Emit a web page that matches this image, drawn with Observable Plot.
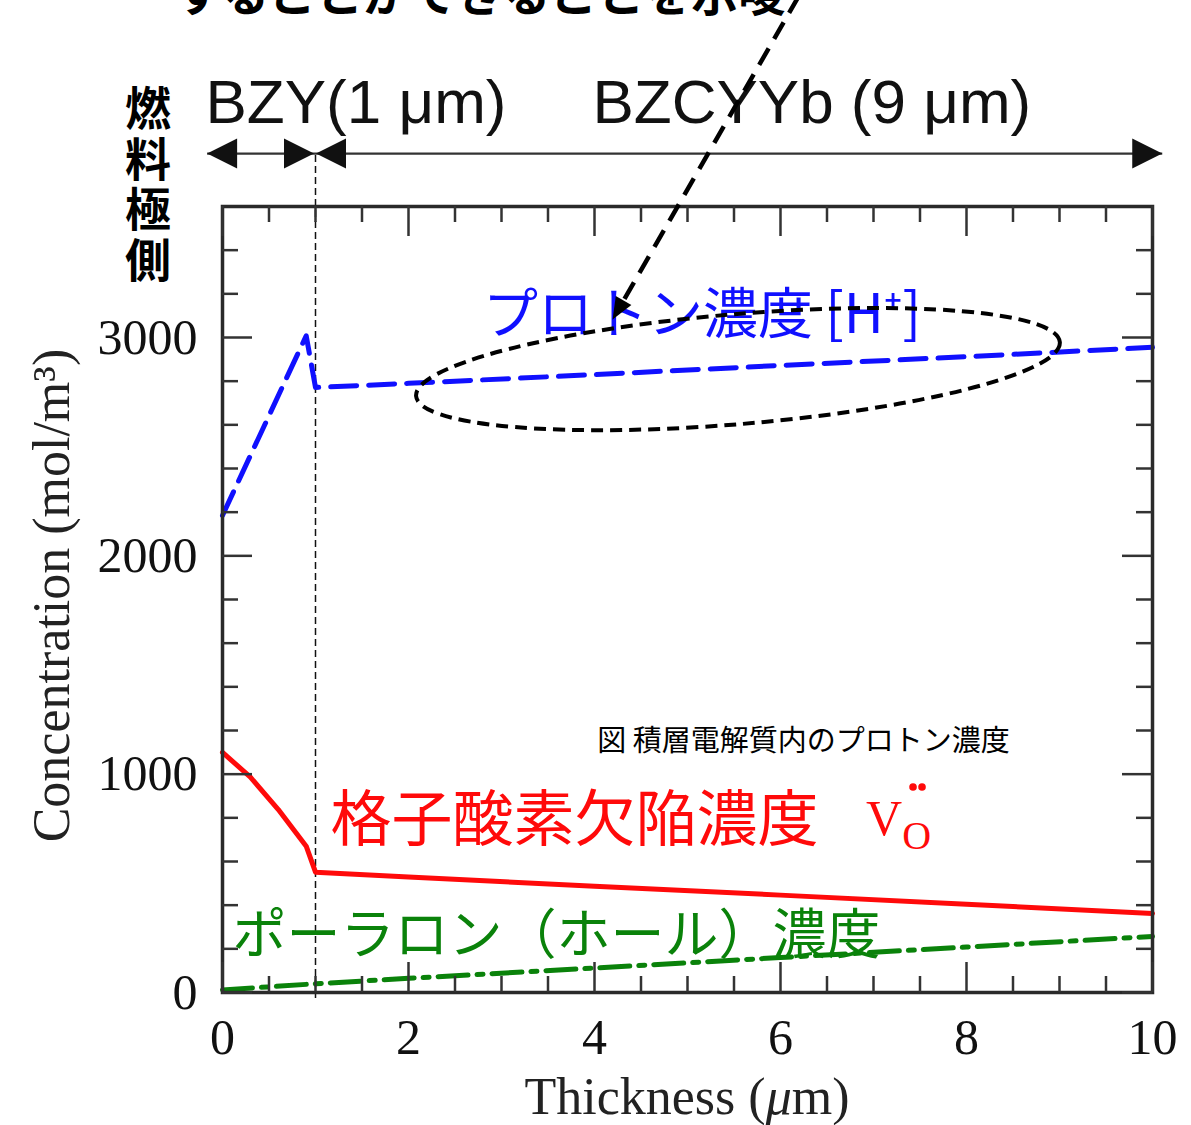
<!DOCTYPE html>
<html lang="ja">
<head>
<meta charset="utf-8">
<script src="https://cdn.jsdelivr.net/npm/d3@7"></script>
<script src="https://cdn.jsdelivr.net/npm/@observablehq/plot@0.6"></script>
<style>
  html, body { margin: 0; padding: 0; background: #fff; }
  #chart svg { display: block; }
</style>
</head>
<body>
<div id="chart"></div>
<script>
// Concentration profiles (mol/m³) through the stacked electrolyte, thickness in μm
const protonX  = [0, 0.9, 1, 2, 4, 6, 8, 10];
const protonC  = [2185, 3008, 2771, 2790, 2830, 2872, 2912, 2955];
const vacancyX = [0, 0.3, 0.6, 0.9, 1, 2, 4, 6, 8, 10];
const vacancyC = [1100, 986, 838, 670, 551, 529, 487, 446, 404, 362];
const polaronX = [0, 1, 2, 4, 6, 8, 10];
const polaronC = [12, 40, 65, 112, 160, 208, 257];

// Axis ticks
const xTickLabels = [0, 2, 4, 6, 8, 10];
const xMinorTicks = [0.5, 1, 1.5, 2.5, 3, 3.5, 4.5, 5, 5.5, 6.5, 7, 7.5, 8.5, 9, 9.5];
const yTickLabels = [0, 1000, 2000, 3000];
const yMinorTicks = [200, 400, 600, 800, 1200, 1400, 1600, 1800, 2200, 2400, 2600, 2800, 3200, 3400];

// Layers of the electrolyte
const layerBoundary = 1;                     // BZY | BZCYYb interface (μm)
const layerNames = ["BZY(1 μm)", "BZCYYb (9 μm)"];
const electrodeSide = "燃料極側";

// Labels
const protonLabel  = "プロトン濃度 [H⁺]";
const vacancyLabel = "格子酸素欠陥濃度";
const polaronLabel = "ポーラロン（ホール）濃度";
const figureCaption = "図 積層電解質内のプロトン濃度";
const headline = "することができることを示唆";

const rows = (xs, cs) => xs.map((x, i) => ({x, c: cs[i]}));

const W = 930, H = 786;           // inner plot size in px
const serif = "'Liberation Serif', 'Times New Roman', serif";
const sans = "'Liberation Sans', Arial, sans-serif";
const jp = "'Noto Sans CJK JP', 'Noto Sans', sans-serif";
const BLUE = "#1010ff", RED = "#ff0a0a", GREEN = "#0a820a", INK = "#222";

// Span arrows, highlight ellipse, pointer and rich labels, drawn with the plot's scales
function annotationLayer(index, scales) {
  const X = scales.x, Y = scales.y;
  const g = d3.create("svg:g");

  // ◀—▶◀———▶ layer spans
  const ay = Y(3840);
  const left = -0.16, right = 10.11;
  g.append("line")
    .attr("x1", X(left)).attr("x2", X(right)).attr("y1", ay).attr("y2", ay)
    .attr("stroke", "#333").attr("stroke-width", 2.4);
  const heads = [{x: left, dir: -1}, {x: layerBoundary, dir: 1}, {x: layerBoundary, dir: -1}, {x: right, dir: 1}];
  for (const h of heads) {
    const tx = X(h.x) + (h.x === layerBoundary ? h.dir * -1 : 0);
    const bx = tx - h.dir * 30;
    g.append("path")
      .attr("d", `M${tx},${ay}L${bx},${ay - 15}L${bx},${ay + 15}Z`)
      .attr("fill", "#111");
  }

  // electrode side, written vertically
  g.append("text")
    .attr("x", X(-0.796)).attr("y", Y(3692))
    .attr("text-anchor", "middle")
    .attr("font-family", jp).attr("font-weight", "bold").attr("font-size", 46)
    .attr("letter-spacing", 4.5)
    .attr("fill", "#000")
    .style("writing-mode", "vertical-rl")
    .style("text-orientation", "upright")
    .text(electrodeSide);

  // dashed ellipse around the BZCYYb proton profile
  const cx = X(5.548), cy = Y(2853);
  g.append("ellipse")
    .attr("cx", cx).attr("cy", cy).attr("rx", 323).attr("ry", 55)
    .attr("transform", `rotate(-4.8 ${cx} ${cy})`)
    .attr("fill", "none").attr("stroke", "#000").attr("stroke-width", 4)
    .attr("stroke-dasharray", "12,7");

  // dashed pointer from the headline down to the proton label
  const x0 = X(6.2), y0 = Y(4560), x1 = X(4.2), y1 = Y(3080);
  const ang = Math.atan2(y1 - y0, x1 - x0);
  const hl = 22, hw = 9;
  const bx = x1 - hl * Math.cos(ang), by = y1 - hl * Math.sin(ang);
  g.append("line")
    .attr("x1", x0).attr("y1", y0).attr("x2", bx).attr("y2", by)
    .attr("stroke", "#000").attr("stroke-width", 4.5).attr("stroke-dasharray", "19,11");
  g.append("path")
    .attr("d", `M${x1},${y1}L${bx + hw * Math.sin(ang)},${by - hw * Math.cos(ang)}L${bx - hw * Math.sin(ang)},${by + hw * Math.cos(ang)}Z`)
    .attr("fill", "#000");

  // x-axis title with italic μ
  const t = g.append("text")
    .attr("x", X(5)).attr("y", Y(0) + 122)
    .attr("text-anchor", "middle")
    .attr("font-family", serif).attr("font-size", 52).attr("fill", INK);
  t.append("tspan").text("Thickness (");
  t.append("tspan").attr("font-style", "italic").text("μ");
  t.append("tspan").text("m)");

  // oxygen vacancy symbol V_O with two dots
  const vx = X(6.925), vy = Y(719);
  const v = g.append("text")
    .attr("x", vx).attr("y", vy)
    .attr("text-anchor", "start")
    .attr("font-family", serif).attr("font-size", 50).attr("fill", RED);
  v.append("tspan").text("V");
  v.append("tspan").attr("font-size", 40).attr("dy", 14).text("O");
  g.append("circle").attr("cx", vx + 47).attr("cy", vy - 48).attr("r", 3.8).attr("fill", RED);
  g.append("circle").attr("cx", vx + 56).attr("cy", vy - 48).attr("r", 3.8).attr("fill", RED);

  return g.node();
}

const chart = Plot.plot({
  width: 1191,
  height: 1125,
  marginLeft: 222,
  marginRight: 39,
  marginTop: 206,
  marginBottom: 133,
  x: {domain: [0, 10]},
  y: {domain: [0, 3600]},
  style: {background: "#fff", color: INK},
  marks: [
    // headline text running off the top edge
    Plot.text([headline], {x: -0.51, y: 4494, text: d => d, textAnchor: "start", lineAnchor: "bottom",
      fontFamily: jp, fontWeight: "bold", fontSize: 47, fill: "#000"}),

    // interface between layers
    Plot.ruleX([layerBoundary], {y1: -27, y2: 3840, stroke: "#111", strokeWidth: 1.5, strokeDasharray: "7,4"}),

    // concentration profiles
    Plot.line(rows(polaronX, polaronC), {x: "x", y: "c", stroke: GREEN, strokeWidth: 5, strokeDasharray: "30,9,6,9"}),
    Plot.line(rows(vacancyX, vacancyC), {x: "x", y: "c", stroke: RED, strokeWidth: 5}),
    Plot.line(rows(protonX, protonC), {x: "x", y: "c", stroke: BLUE, strokeWidth: 5, strokeDasharray: "26,12"}),

    // frame and inward ticks on all four sides
    Plot.frame({stroke: "#2a2a2a", strokeWidth: 3.5}),
    Plot.ruleX(xTickLabels, {insetTop: H - 30, stroke: "#333", strokeWidth: 2.5}),
    Plot.ruleX(xMinorTicks, {insetTop: H - 16, stroke: "#333", strokeWidth: 2.5}),
    Plot.ruleX(xTickLabels, {insetBottom: H - 30, stroke: "#333", strokeWidth: 2.5}),
    Plot.ruleX(xMinorTicks, {insetBottom: H - 16, stroke: "#333", strokeWidth: 2.5}),
    Plot.ruleY(yTickLabels, {insetRight: W - 30, stroke: "#333", strokeWidth: 2.5}),
    Plot.ruleY(yMinorTicks, {insetRight: W - 16, stroke: "#333", strokeWidth: 2.5}),
    Plot.ruleY(yTickLabels, {insetLeft: W - 30, stroke: "#333", strokeWidth: 2.5}),
    Plot.ruleY(yMinorTicks, {insetLeft: W - 16, stroke: "#333", strokeWidth: 2.5}),

    // tick labels
    Plot.axisX({ticks: xTickLabels, tickFormat: d => String(d), tickSize: 0, tickPadding: 26,
      fontSize: 50, fontFamily: serif, fill: "#111", label: null}),
    Plot.axisY({ticks: yTickLabels, tickFormat: d => String(d), tickSize: 0, tickPadding: 25,
      fontSize: 50, fontFamily: serif, fill: "#111", label: null}),

    // y-axis title
    Plot.text(["Concentration (mol/m³)"], {x: -1.83, y: 1818, text: d => d, rotate: -90,
      fontFamily: serif, fontSize: 52, fill: INK}),

    // layer names
    Plot.text([layerNames[0]], {x: -0.183, y: 4072, text: d => d, textAnchor: "start",
      fontFamily: sans, fontSize: 62, fill: "#111"}),
    Plot.text([layerNames[1]], {x: 3.978, y: 4072, text: d => d, textAnchor: "start",
      fontFamily: sans, fontSize: 62, fill: "#111"}),

    // series labels and caption
    Plot.text([protonLabel], {x: 2.8, y: 3101, text: d => d, textAnchor: "start",
      fontFamily: jp, fontSize: 55, fill: BLUE}),
    Plot.text([vacancyLabel], {x: 1.161, y: 783, text: d => d, textAnchor: "start",
      fontFamily: jp, fontSize: 61, fill: RED}),
    Plot.text([polaronLabel], {x: 0.1075, y: 256, text: d => d, textAnchor: "start",
      fontFamily: jp, fontSize: 54, fill: GREEN}),
    Plot.text([figureCaption], {x: 4.03, y: 1150, text: d => d, textAnchor: "start",
      fontFamily: jp, fontSize: 29, fill: "#000"}),

    annotationLayer
  ]
});

document.getElementById("chart").append(chart);
</script>
</body>
</html>
